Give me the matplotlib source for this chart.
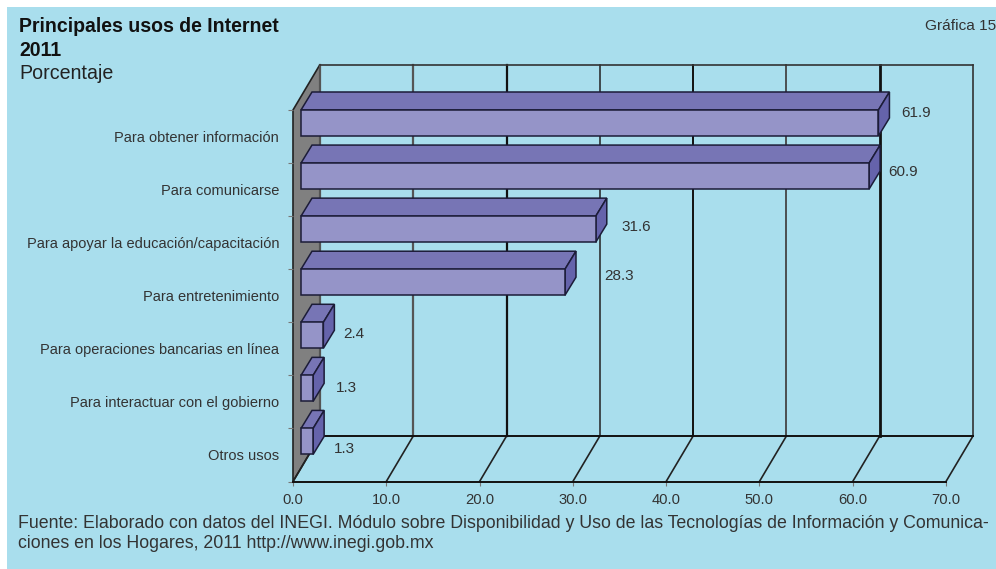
import matplotlib
matplotlib.use("Agg")
import matplotlib.pyplot as plt
from matplotlib.patches import Polygon, Rectangle

categories = ["Para obtener información", "Para comunicarse",
              "Para apoyar la educación/capacitación", "Para entretenimiento",
              "Para operaciones bancarias en línea", "Para interactuar con el gobierno",
              "Otros usos"]
values = [61.9, 60.9, 31.6, 28.3, 2.4, 1.3, 1.3]
value_labels = ["61.9", "60.9", "31.6", "28.3", "2.4", "1.3", "1.3"]
x_ticks = [0, 10, 20, 30, 40, 50, 60, 70]

# layout (pixels of the 996x569 figure)
W, H = 996, 569
L, R, T, B = 293, 946, 110, 481.5
label_off = [(23, 2), (19, 8), (26, 10), (39, 6), (20, 11), (23, 12), (21, 20)]
grid_style = [("#555555", 1.6), ("#555555", 1.6), ("#111111", 1.6), ("#222222", 1.1),
              ("#111111", 1.4), ("#444444", 1.3), ("#111111", 2.0), ("#333333", 1.2)]

BG, WALL = "#A9DEED", "#808080"
FRONT, TOP, SIDE = "#9594C8", "#7775B5", "#6563AB"
EDGE, TXT = "#1c1c38", "#333333"
plt.rcParams["font.family"] = ["Liberation Sans", "DejaVu Sans"]

fig = plt.figure(figsize=(W / 100, H / 100), dpi=100, facecolor="white")
fig.add_artist(Rectangle((7 / W, 0), 1, 1 - 7 / H, transform=fig.transFigure,
                         facecolor=BG, edgecolor="none", zorder=-5))
ax = fig.add_axes([L / W, 1 - B / H, (R - L) / W, (B - T) / H])
ax.patch.set_alpha(0)
n = len(categories)
ax.set_xlim(x_ticks[0], x_ticks[-1])
ax.set_ylim(n - 0.5, -0.5)
for s in ax.spines.values():
    s.set_visible(False)

px = (R - L) / (x_ticks[-1] - x_ticks[0])   # pixels per value unit
py = (B - T) / n                             # pixels per category
DX, DY = 27 / px, 45.5 / py                  # chart depth
bx, bdx, bdy = 8 / px, 11 / px, 18 / py      # bar inset and bar depth
bh = 26 / py
x0, xn = x_ticks[0], x_ticks[-1]
yt, yb = -0.5, n - 0.5

ax.add_patch(Polygon([(x0, yt), (x0 + DX, yt - DY), (x0 + DX, yb - DY), (x0, yb)],
                     closed=True, facecolor=WALL, edgecolor="#222222", lw=1.2,
                     clip_on=False, zorder=1))
for t, (c, lw) in zip(x_ticks, grid_style):
    ax.plot([t + DX, t + DX], [yt - DY, yb - DY], color=c, lw=lw, clip_on=False, zorder=2)
    ax.plot([t, t + DX], [yb, yb - DY], color="#222222", lw=1.2, clip_on=False, zorder=2)
ax.plot([x0 + DX, xn + DX], [yt - DY, yt - DY], color="#333333", lw=1.2, clip_on=False, zorder=2)
ax.plot([x0 + DX, xn + DX], [yb - DY, yb - DY], color="#111111", lw=1.4, clip_on=False, zorder=2)
ax.plot([x0, xn], [yb, yb], color="#111111", lw=1.4, clip_on=False, zorder=2)

ys = [i - 0.5 for i in range(n)]
ax.barh(ys, values, height=bh, left=bx, align="edge", color=FRONT,
        edgecolor=EDGE, linewidth=1.1, zorder=4, clip_on=False)
for y, v in zip(ys, values):
    e = bx + v
    ax.add_patch(Polygon([(bx, y), (bx + bdx, y - bdy), (e + bdx, y - bdy), (e, y)],
                         closed=True, facecolor=TOP, edgecolor=EDGE, lw=1.1,
                         clip_on=False, zorder=3))
    ax.add_patch(Polygon([(e, y), (e + bdx, y - bdy), (e + bdx, y - bdy + bh), (e, y + bh)],
                         closed=True, facecolor=SIDE, edgecolor=EDGE, lw=1.1,
                         clip_on=False, zorder=3))
for y, v, s, (ox, oy) in zip(ys, values, value_labels, label_off):
    ax.annotate(s, xy=(bx + v, y), xytext=(ox, -oy - 1), textcoords="offset pixels",
                ha="left", va="center", fontsize=11, color=TXT, zorder=5)

ax.set_xticks(x_ticks, [f"{t:.1f}" for t in x_ticks], fontsize=10.6, color=TXT)
ax.tick_params(axis="x", length=3, width=0.8, color="#777777", pad=5)
ax.set_yticks(range(n), categories, fontsize=10.5, color=TXT)
ax.tick_params(axis="y", which="major", length=0, pad=10)
ax.set_yticks(ys + [yb], minor=True)
ax.tick_params(axis="y", which="minor", length=3.6, width=0.8, color="#777777")


def ftext(x, y, s, **kw):
    fig.text(x / W, 1 - y / H, s, va="center", **kw)


ftext(19, 26, "Principales usos de Internet", fontsize=14.05, fontweight="bold", color="#111111")
ftext(19, 50, "2011", fontsize=14.05, fontweight="bold", color="#111111")
ftext(19, 74, "Porcentaje", fontsize=14.1, color="#222222")
ftext(996, 26, "Gráfica 15", fontsize=11.1, color=TXT, ha="right")
ftext(18, 523.5, "Fuente: Elaborado con datos del INEGI. Módulo sobre Disponibilidad y Uso de las "
      "Tecnologías de Información y Comunica-", fontsize=12.78, color=TXT)
ftext(18, 544, "ciones en los Hogares, 2011 http://www.inegi.gob.mx", fontsize=12.78, color=TXT)

fig.savefig("out.png", dpi=100, facecolor=fig.get_facecolor())
